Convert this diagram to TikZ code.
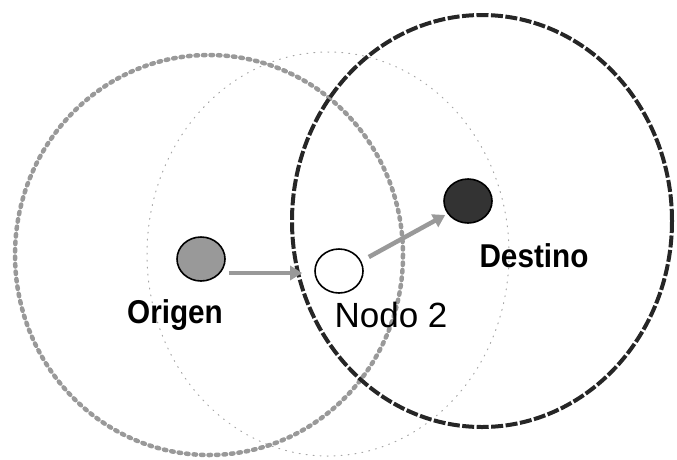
\documentclass[tikz,border=0pt]{standalone}
\usepackage{fontspec}
\setmainfont{Liberation Sans}
\newfontfamily\labbold[FakeStretch=0.9]{Liberation Sans Bold}
\usetikzlibrary{shapes.geometric,arrows.meta,calc}
\begin{document}
\begin{tikzpicture}[x=1pt,y=-1pt,
  site/.style={ellipse,draw=black,line width=1.6pt,minimum width=48pt,minimum height=44pt,inner sep=0pt},
  arr/.style={draw=black!40,line width=4.5pt,-{Triangle[length=12pt,width=14pt]}},
  boldlab/.style={font=\labbold\fontsize{33}{33}\selectfont,anchor=base},
  reglab/.style={font=\fontsize{35}{35}\selectfont,anchor=base}]
\useasboundingbox (0,0) rectangle (677,459);
% ranges
\draw[black!35,line width=1pt,dash pattern=on 1pt off 6pt,line cap=round] (328,254) ellipse [x radius=181, y radius=202];
\draw[black!40,line width=4.5pt,dash pattern=on 2.5pt off 5pt,line cap=round] (209,255) ellipse [x radius=194, y radius=200];
\draw[black!85,line width=4pt,dash pattern=on 12pt off 2.5pt] (482,221) ellipse [x radius=190, y radius=206];
% nodes
\node[site,fill=black!40] (o) at (201,259) {};
\node[site,fill=white] (n2) at (339,271) {};
\node[site,fill=black!80] (d) at (468,201) {};
% arrows
\draw[arr] ($(o.east)+(3,14)$) -- ($(n2.west)+(-12,2)$);
\draw[arr] ($(n2.east)+(5,-14)$) -- ($(d.west)+(2,14)$);
% labels
\node[boldlab] (lo) at (175,323) {Origen};
\node[reglab] (ln) at (391,327) {Nodo 2};
\node[boldlab] (ld) at (534,267) {Destino};
\end{tikzpicture}
\end{document}
